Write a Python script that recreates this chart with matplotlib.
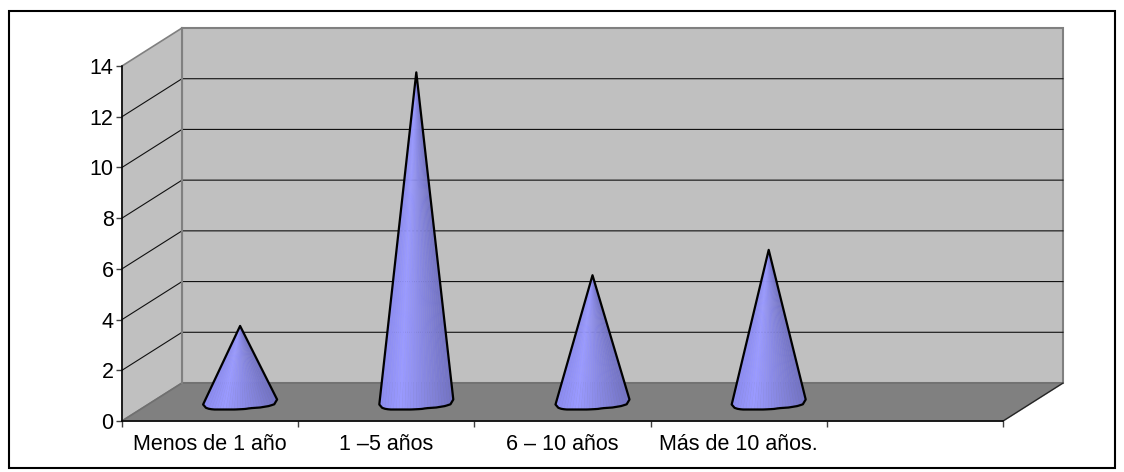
import numpy as np
import matplotlib
matplotlib.use("Agg")
import matplotlib.pyplot as plt
from matplotlib.patches import Polygon, Rectangle
from matplotlib.colors import LinearSegmentedColormap

categories = ["Menos de 1 año", "1 –5 años", "6 – 10 años", "Más de 10 años.", ""]
values = [3, 13, 5, 6]
y_ticks = [0, 2, 4, 6, 8, 10, 12, 14]

W, H = 1124, 472
plt.rcParams["font.family"] = ["Liberation Sans", "DejaVu Sans"]
fig = plt.figure(figsize=(W / 100, H / 100), dpi=100, facecolor="white")
fig.add_artist(Rectangle((8.5 / W, 1 - 467.5 / H), 1106.5 / W, 457 / H, transform=fig.transFigure,
                         fill=False, ec="black", lw=1.5))

L, R, T, B = 122, 1003, 66, 421
ax = fig.add_axes([L / W, 1 - B / H, (R - L) / W, (B - T) / H])
ncat = len(categories)
ymax = y_ticks[-1]
ax.set_xlim(0, ncat)
ax.set_ylim(0, ymax)
ax.patch.set_visible(False)
px, py = ncat / (R - L), ymax / (B - T)
DX, DY = 60 * px, 38 * py

ax.add_patch(Polygon([(DX, DY), (ncat + DX, DY), (ncat + DX, ymax + DY), (DX, ymax + DY)],
                     fc="#C0C0C0", ec="#808080", lw=1.5, clip_on=False, zorder=1))
ax.add_patch(Polygon([(0, 0), (DX, DY), (DX, ymax + DY), (0, ymax)],
                     fc="#C0C0C0", ec="#808080", lw=1.2, clip_on=False, zorder=1))
ax.add_patch(Polygon([(0, 0), (ncat, 0), (ncat + DX, DY), (DX, DY)],
                     fc="#808080", ec="#707070", lw=1.2, clip_on=False, zorder=1))
ax.plot([ncat, ncat + DX], [0, DY], color="#202020", lw=0.8, clip_on=False, zorder=2)
for v in y_ticks[1:-1]:
    ax.plot([0, DX, ncat + DX], [v, v + DY, v + DY], color="#101010", lw=0.8, clip_on=False, zorder=2)
ax.plot([DX, DX], [DY, ymax + DY], color="#808080", lw=1.5, clip_on=False, zorder=2)

cmap = LinearSegmentedColormap.from_list("cone", [(0, "#8C8CF0"), (0.28, "#9A9AFF"), (0.7, "#8484DC"), (1, "#7474C4")])
n = 26
# rim outline of the cone foot, in pixels relative to its centre
rim_x = [-37, -35.5, -33, -27, -5, 5, 10, 20, 29, 35, 37]
rim_y = [2.5, 5, 6.5, 7.5, 7.5, 7, 6.2, 5.5, 4, 2, -2.5]
for i, v in enumerate(values):
    cx = i + 0.5 + DX / 2
    cy = DY / 2
    u = np.linspace(-37, 37, n + 1)
    xs = cx + u * px
    ys = cy - np.interp(u, rim_x, rim_y) * py
    apex = (cx, cy + v)
    for k in range(n):
        col = cmap(k / (n - 1))
        ax.add_patch(Polygon([apex, (xs[k], ys[k]), (xs[k + 1], ys[k + 1])], fc=col, ec=col, lw=0.3,
                             clip_on=False, zorder=3))
    ax.add_patch(Polygon(np.column_stack([np.r_[apex[0], xs], np.r_[apex[1], ys]]), fill=False,
                         ec="black", lw=1.6, joinstyle="round", clip_on=False, zorder=4))

for s in ("top", "right"):
    ax.spines[s].set_visible(False)
for s in ("left", "bottom"):
    ax.spines[s].set_color("black")
    ax.spines[s].set_linewidth(1.1)
    ax.spines[s].set_zorder(5)
ax.set_yticks(y_ticks)
ax.set_xticks(range(ncat + 1))
ax.set_xticklabels([])
ax.set_xticks(np.arange(ncat) + 0.5, categories, minor=True)
ax.tick_params(axis="x", which="minor", length=0, labelsize=15.5, pad=9)
ax.tick_params(axis="x", which="major", length=4, width=1, color="#404040")
ax.tick_params(axis="y", length=4, width=1, color="#404040", labelsize=15.5, pad=2)
fig.savefig("out.png", dpi=100, facecolor="white")
